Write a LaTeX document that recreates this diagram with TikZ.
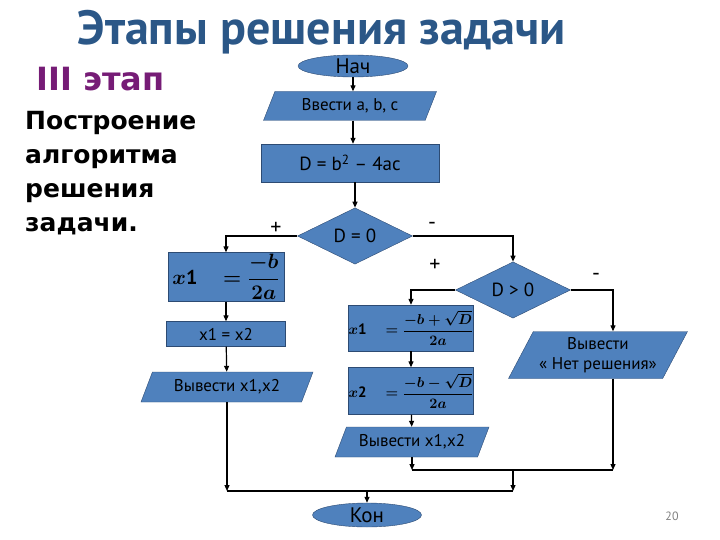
\documentclass[tikz,border=0pt]{standalone}
\usepackage{fontspec}
\setmainfont{PT Sans}
\newfontfamily\roundfont{DejaVu Sans}
\usepackage{amsmath}
\usetikzlibrary{arrows.meta,shapes.geometric}
\definecolor{shapefill}{RGB}{79,129,189}
\definecolor{shapeline}{RGB}{45,75,115}
\definecolor{titleblue}{RGB}{43,87,135}
\definecolor{stagepurple}{RGB}{118,28,118}

\begin{document}
\begin{tikzpicture}[x=1pt, y=-1pt,
  box/.style = {draw=shapeline, fill=shapefill, inner sep=0pt, font=\fontsize{17}{20}\selectfont},
  io/.style = {box, trapezium, trapezium left angle=52, trapezium right angle=128,
    trapezium stretches body, align=center},
  term/.style = {box, ellipse, font=\fontsize{21}{22}\selectfont},
  cond/.style = {box, diamond, minimum width=115pt, minimum height=54pt,
    font=\fontsize{19}{20}\selectfont},
  formula/.style = {box, font=\fontsize{#1}{#1}\selectfont},
  arr/.style = {line width=1.2pt, -{Triangle[length=6pt,width=5pt]}},
  ln/.style = {line width=1.2pt},
  sign/.style = {font=\fontsize{22}{22}\selectfont}]

\useasboundingbox (0,0) rectangle (720,540);

\node (title) at (77,45) [anchor=base west, inner sep=0pt, text=titleblue,
  font=\bfseries\fontsize{48}{50}\selectfont]{Этапы решения задачи};
\node (stage) at (36,91) [anchor=base west, inner sep=0pt, text=stagepurple,
  font=\roundfont\bfseries\fontsize{32}{34}\selectfont]{III этап};
\node (task) at (25,111) [anchor=north west, align=left, inner sep=0pt,
  font=\roundfont\bfseries\fontsize{25}{34}\selectfont]{Построение\\алгоритма\\решения\\задачи.};

\node (nach) at (353,66) [term, minimum width=110pt, minimum height=22pt]{Нач};
\node (vvod) at (350,106) [io, minimum width=173pt, minimum height=29pt]{Ввести a, b, c};
\node (disc) at (350,163) [box, minimum width=178pt, minimum height=38pt,
  font=\fontsize{19}{20}\selectfont]{D = b\textsuperscript{2} – 4ac};
\node (d0) at (355,236) [cond]{D = 0};
\node (xa) at (226,277) [formula=20, minimum width=116pt, minimum height=49pt]
  {$\boldsymbol{x}\mathbf{1}\quad\boldsymbol{=\dfrac{-b}{2a}}$};
\node (eq) at (226,334) [box, minimum width=119pt, minimum height=25pt]{x1 = x2};
\node (outl) at (227,387) [io, minimum width=172pt, minimum height=30pt]{Вывести x1,x2};
\node (dp) at (513,290) [cond]{D > 0};
\node (xb) at (411,328) [formula=15, minimum width=109pt, minimum height=46pt]
  {$\boldsymbol{x}\mathbf{1}\quad\boldsymbol{=\dfrac{-b+\sqrt{D}}{2a}}$};
\node (xc) at (411,391) [formula=15, minimum width=112pt, minimum height=47pt]
  {$\boldsymbol{x}\mathbf{2}\quad\boldsymbol{=\dfrac{-b-\sqrt{D}}{2a}}$};
\node (outr) at (412,442) [io, minimum width=154pt, minimum height=30pt]{Вывести x1,x2};
\node (net) at (598,355) [io, minimum width=179pt, minimum height=47pt,
  trapezium left angle=55, trapezium right angle=125]{Вывести\\« Нет решения»};
\node (kon) at (367,515) [term, minimum width=109pt, minimum height=24pt]{Кон};

\node (p1) at (276,228) [sign]{+};
\node (m1) at (432,226) [sign]{-};
\node (p2) at (435,265) [sign]{+};
\node (m2) at (596,277) [sign]{-};
\node (page) at (672,516) [text=gray, font=\fontsize{12}{14}\selectfont]{20};

\coordinate (ja) at (513,470);
\coordinate (jb) at (513,491);
\coordinate (nr) at (613,300);

\draw[arr] (nach) -- (nach |- vvod.north);
\draw[arr] (vvod.south -| nach) -- (nach |- disc.north);
\draw[arr] (disc.south -| d0) -- (d0.north);
\draw[arr] (d0.west) -| (xa.north);
\draw[arr] (d0.east) -| (dp.north);
\draw[arr] (xa) -- (eq);
\draw[arr] (eq) -- (outl);
\draw[arr] (dp.west) -| (xb.north);
\draw[arr] (xb) -- (xc);
\draw[arr] (xc) -- (outr);
\draw[arr] (dp.east) -| (nr |- net.north);
\draw[arr] (nr |- net.south) -- (nr |- ja);
\draw[arr] (outr.south) -- (outr.south |- ja);
\draw[ln] (outr.south |- ja) -- (nr |- ja);
\draw[arr] (ja) -- (jb);
\draw[arr] (outl.south) -- (outl.south |- jb);
\draw[ln] (outl.south |- jb) -- (jb);
\draw[arr] (kon.north |- jb) -- (kon.north);

\end{tikzpicture}
\end{document}
